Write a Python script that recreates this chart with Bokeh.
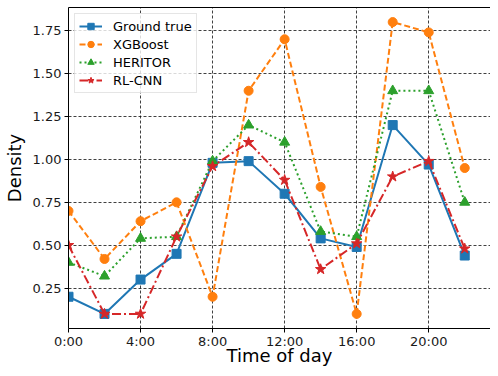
from bokeh.plotting import figure
from bokeh.models import Range1d, FixedTicker, LinearAxis, Legend
from bokeh.embed import file_html
from bokeh.resources import INLINE

hours = [0, 2, 4, 6, 8, 10, 12, 14, 16, 18, 20, 22]
ground_true = [0.20, 0.10, 0.30, 0.45, 0.98, 0.99, 0.80, 0.54, 0.49, 1.20, 0.97, 0.44]
xgboost = [0.70, 0.42, 0.64, 0.75, 0.20, 1.40, 1.70, 0.84, 0.10, 1.80, 1.74, 0.95]
heritor = [0.40, 0.32, 0.54, 0.55, 0.99, 1.20, 1.10, 0.58, 0.55, 1.40, 1.40, 0.75]
rl_cnn = [0.50, 0.10, 0.10, 0.55, 0.96, 1.10, 0.88, 0.36, 0.51, 0.90, 0.99, 0.48]

x_ticks = [0, 4, 8, 12, 16, 20]
x_tick_labels = ["0:00", "4:00", "8:00", "12:00", "16:00", "20:00"]
y_ticks = [0.25, 0.50, 0.75, 1.00, 1.25, 1.50, 1.75]

FONT = "DejaVu Sans"

p = figure(width=490, height=368, output_backend="svg", toolbar_location=None,
           x_range=Range1d(0, 23.43), y_range=Range1d(0.015, 1.885),
           min_border_left=66, min_border_right=0, min_border_top=7, min_border_bottom=0)
p.outline_line_color = None
p.background_fill_color = "white"
p.border_fill_color = "white"

for ax in (p.xaxis[0], p.yaxis[0]):
    ax.axis_line_color = "black"
    ax.axis_line_width = 1
    ax.major_tick_line_color = "black"
    ax.major_tick_out = 4
    ax.major_tick_in = 0
    ax.minor_tick_out = 0
    ax.minor_tick_in = 0
    ax.major_label_text_font = FONT
    ax.major_label_text_font_size = "13px"
    ax.major_label_text_color = "#1a1a1a"
    ax.axis_label_text_font = FONT
    ax.axis_label_text_font_size = "18px"
    ax.axis_label_text_font_style = "normal"
    ax.axis_label_text_color = "black"

p.xaxis.ticker = FixedTicker(ticks=x_ticks)
p.xaxis.major_label_overrides = {t: l for t, l in zip(x_ticks, x_tick_labels)}
p.xaxis.axis_label = "Time of day"
p.xaxis.major_label_standoff = 1
p.xaxis.axis_label_standoff = -7

p.yaxis.ticker = FixedTicker(ticks=y_ticks)
p.yaxis.major_label_overrides = {t: f"{t:.2f}" for t in y_ticks}
p.yaxis.axis_label = "Density"
p.yaxis.major_label_standoff = 3
p.yaxis.axis_label_standoff = 5

top_axis = LinearAxis(ticker=FixedTicker(ticks=[]), major_label_text_font_size="0px",
                      major_tick_out=0, major_tick_in=0, minor_tick_out=0, minor_tick_in=0,
                      major_label_standoff=0, axis_line_color="black")
p.add_layout(top_axis, "above")

for g in (p.xgrid[0], p.ygrid[0]):
    g.grid_line_color = "black"
    g.grid_line_alpha = 0.75
    g.grid_line_dash = "3 2"
    g.grid_line_width = 1

series = [
    ("Ground true", ground_true, "#1f77b4", "solid", "square", 9),
    ("XGBoost", xgboost, "#ff7f0e", "6 3", "circle", 9),
    ("HERITOR", heritor, "#2ca02c", "2 3", "triangle", 10),
    ("RL-CNN", rl_cnn, "#d62728", "9 3 2 3", "star", 11),
]

items = []
for name, vals, color, dash, marker, size in series:
    l = p.line(hours, vals, line_color=color, line_width=2, line_dash=dash)
    m = p.scatter(hours, vals, marker=marker, size=size, fill_color=color, line_color=color)
    items.append((name, [l, m]))

legend = Legend(items=items, location="top_left")
legend.label_text_font = FONT
legend.label_text_font_size = "13px"
legend.label_text_color = "black"
legend.border_line_color = "#cccccc"
legend.border_line_width = 1
legend.background_fill_alpha = 0.8
legend.glyph_width = 23
legend.glyph_height = 16
legend.label_standoff = 11
legend.label_height = 16
legend.spacing = 2
legend.padding = 4
legend.margin = 6
p.add_layout(legend)

open("out.html", "w").write(file_html(p, INLINE))
